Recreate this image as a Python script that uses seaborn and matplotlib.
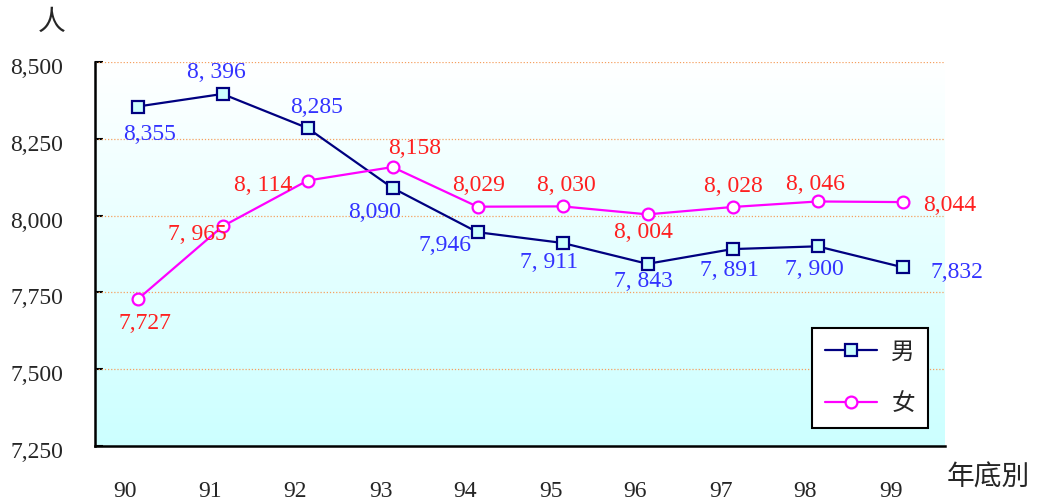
import numpy as np
import pandas as pd
import matplotlib
matplotlib.use("Agg")
import matplotlib.pyplot as plt
import matplotlib.transforms as mtransforms
import seaborn as sns

years = ["90", "91", "92", "93", "94", "95", "96", "97", "98", "99"]
male = [8355, 8396, 8285, 8090, 7946, 7911, 7843, 7891, 7900, 7832]
female = [7727, 7965, 8114, 8158, 8029, 8030, 8004, 8028, 8046, 8044]
male_text = ["8,355", "8, 396", "8,285", "8,090", "7,946", "7, 911", "7, 843", "7, 891", "7, 900", "7,832"]
female_text = ["7,727", "7, 965", "8, 114", "8,158", "8,029", "8, 030", "8, 004", "8, 028", "8, 046", "8,044"]
yticks = [7250, 7500, 7750, 8000, 8250, 8500]
ytick_labels = ["7,250", "7,500", "7,750", "8,000", "8,250", "8,500"]
series_names = ["男", "女"]

sns.set_style("white")
plt.rcParams["font.family"] = ["Liberation Serif", "Noto Sans CJK TC"]

df = pd.DataFrame({
    "pos": list(range(len(years))) * 2,
    "value": male + female,
    "sex": [series_names[0]] * len(years) + [series_names[1]] * len(years),
})

fig = plt.figure(figsize=(10.42, 5.04), dpi=100)
ax = fig.add_axes([95 / 1042, 58 / 504, 850 / 1042, 384 / 504])

# vertical gradient background: white at top, pale cyan at bottom
grad = np.linspace(0, 1, 256).reshape(-1, 1)
top = np.array([1.0, 1.0, 1.0])
bottom = np.array([0.80, 1.0, 1.0])
img = top[None, None, :] * (1 - grad[:, :, None]) + bottom[None, None, :] * grad[:, :, None]
ax.imshow(img, extent=[-0.5, 9.5, 7250, 8500], aspect="auto", zorder=0)

for yv in yticks[1:]:
    ax.axhline(yv, color="#F5A060", lw=0.9, ls=(0, (1, 1.5)), zorder=1)

male_df = df[df["sex"] == series_names[0]]
female_df = df[df["sex"] == series_names[1]]
sns.lineplot(data=male_df, x="pos", y="value", ax=ax, color="#000080", lw=1.6,
             marker="s", markersize=8, markerfacecolor="#CCFFFF",
             markeredgecolor="#000080", markeredgewidth=1.6, label=series_names[0], zorder=3)
sns.lineplot(data=female_df, x="pos", y="value", ax=ax, color="#FF00FF", lw=1.6,
             marker="o", markersize=8.5, markerfacecolor="white",
             markeredgecolor="#FF00FF", markeredgewidth=1.6, label=series_names[1], zorder=3)

male_off = [(12, -28), (-6, 21), (9, 21), (-18, -25), (-33, -13), (-13, -20), (-4, -18), (-3, -21), (-3, -23), (54, -5)]
female_off = [(7, -24), (-25, -8), (-44, -5), (22, 19), (1, 21), (4, 21), (-4, -18), (1, 20), (-2, 17), (47, -3)]
for i in range(len(years)):
    ax.annotate(male_text[i], (i, male[i]), xytext=male_off[i], textcoords="offset pixels",
                ha="center", va="center", color="#3333FF", fontsize=17, zorder=4)
    ax.annotate(female_text[i], (i, female[i]), xytext=female_off[i], textcoords="offset pixels",
                ha="center", va="center", color="#FF2020", fontsize=17, zorder=4)

ax.set_xlim(-0.5, 9.5)
ax.set_ylim(7250, 8500)
ax.set_yticks(yticks)
ax.set_yticklabels(ytick_labels, fontsize=17)
ax.set_xticks(np.arange(-0.5, 10, 1))
ax.set_xticklabels([])
ax.set_xticks(np.arange(len(years)), minor=True)
ax.set_xticklabels(years, minor=True, fontsize=17)
ax.tick_params(axis="x", which="major", direction="in", length=6, width=1.5, color="black")
ax.tick_params(axis="x", which="minor", length=0, pad=25)
ax.tick_params(axis="y", direction="in", length=6, width=1.5, color="black", pad=23, left=True)
xshift = mtransforms.ScaledTranslation(-12 / 100, 0, fig.dpi_scale_trans)
for lbl in ax.get_xticklabels(minor=True):
    lbl.set_transform(lbl.get_transform() + xshift)
yshift = mtransforms.ScaledTranslation(0, -4 / 100, fig.dpi_scale_trans)
for lbl in ax.get_yticklabels():
    lbl.set_transform(lbl.get_transform() + yshift)

for side in ["top", "right"]:
    ax.spines[side].set_visible(False)
for side in ["left", "bottom"]:
    ax.spines[side].set_color("black")
    ax.spines[side].set_linewidth(1.8)
ax.set_xlabel("")
ax.set_ylabel("")

leg = ax.legend(loc="lower right", bbox_to_anchor=(0.98, 0.047), borderaxespad=0, fontsize=17,
                frameon=True, fancybox=False, edgecolor="black", framealpha=1,
                handlelength=2.2, labelspacing=1.2, borderpad=0.55, handletextpad=0.6)
leg.get_frame().set_linewidth(1.5)
for t in leg.get_texts():
    t.set_family(["Noto Sans CJK TC"])

fig.text(52 / 1042, 1 - 22 / 504, "人", fontsize=20, ha="center", va="center",
         family=["Noto Sans CJK TC"])
fig.text(988 / 1042, 1 - 478 / 504, "年底別", fontsize=20, ha="center", va="center",
         family=["Noto Sans CJK TC"])

fig.savefig("out.png", dpi=100)
